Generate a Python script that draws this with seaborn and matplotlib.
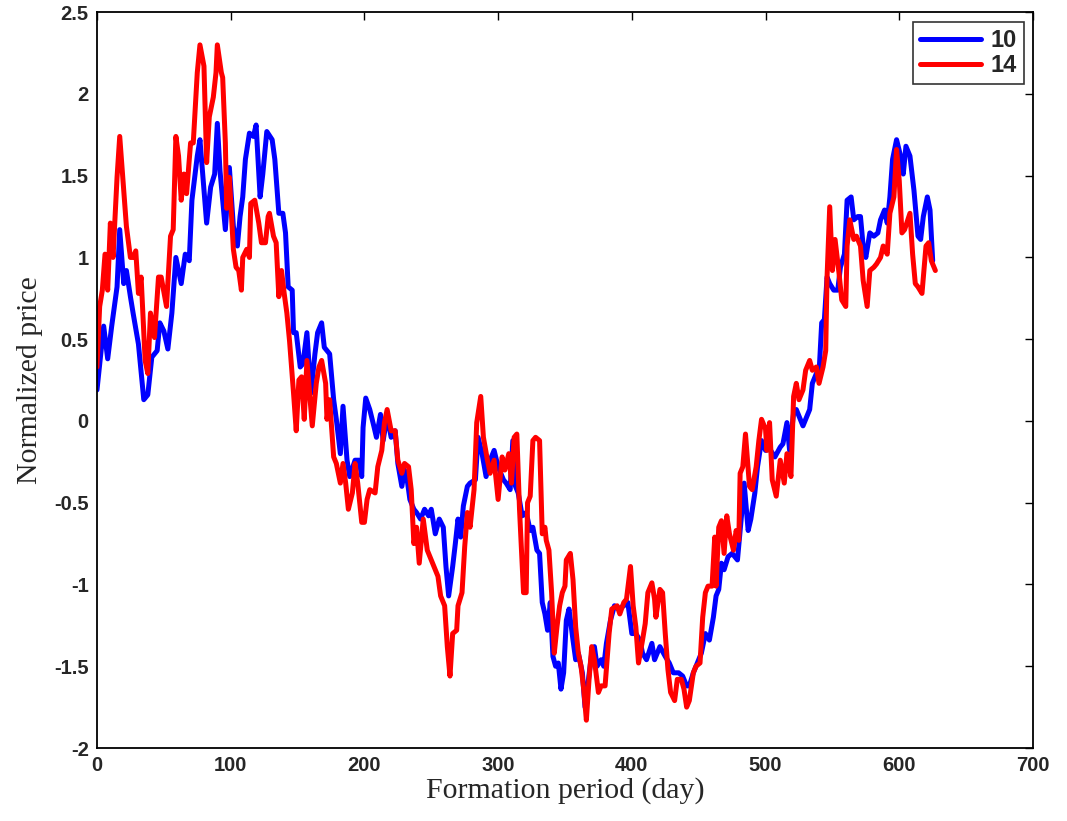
import numpy as np
import pandas as pd
import matplotlib
matplotlib.use("Agg")
import matplotlib.pyplot as plt
import seaborn as sns

# Normalized price paths over the formation period, two stocks ("10" and "14")
days_10 = [0, 5, 8, 11, 15, 17, 20, 22, 25, 27, 31, 35, 38, 41, 45, 47, 50, 53, 56, 59,
           63, 66, 69, 71, 75, 77, 80, 82, 85, 88, 90, 92, 96, 99, 102, 105, 107, 109, 111, 114,
           117, 119, 122, 124, 127, 131, 133, 136, 139, 141, 143, 146, 147, 149, 152, 154, 157, 160, 163, 165,
           168, 170, 174, 177, 179, 182, 184, 187, 189, 193, 196, 198, 199, 201, 204, 207, 209, 212, 214, 217,
           220, 223, 225, 228, 230, 232, 234, 237, 239, 242, 245, 248, 250, 253, 256, 259, 261, 263, 266, 268,
           270, 272, 274, 277, 279, 283, 285, 288, 291, 294, 297, 300, 304, 306, 309, 311, 313, 315, 318, 321,
           324, 326, 329, 331, 333, 335, 337, 339, 341, 343, 345, 347, 349, 351, 353, 356, 358, 360, 363, 365,
           367, 370, 372, 374, 377, 379, 381, 384, 387, 390, 394, 397, 400, 403, 406, 408, 411, 415, 417, 421,
           425, 428, 431, 435, 438, 441, 443, 446, 450, 452, 455, 458, 461, 463, 465, 467, 469, 472, 475, 477,
           479, 482, 484, 487, 489, 492, 494, 497, 500, 503, 507, 511, 513, 516, 518, 521, 523, 526, 528, 531,
           533, 535, 538, 540, 542, 544, 546, 548, 551, 554, 556, 559, 561, 564, 566, 569, 571, 573, 575, 578,
           581, 584, 586, 589, 591, 593, 595, 598, 601, 603, 605, 608, 609, 611, 614, 616, 618, 621, 623, 625]
price_10 = [0.19, 0.58, 0.38, 0.58, 0.82, 1.17, 0.84, 0.92, 0.76, 0.66, 0.47, 0.13, 0.16, 0.39, 0.43, 0.60, 0.55, 0.44, 0.66, 1.00,
            0.84, 1.02, 0.98, 1.35, 1.62, 1.72, 1.41, 1.21, 1.43, 1.51, 1.82, 1.53, 1.17, 1.55, 1.19, 1.07, 1.25, 1.37, 1.60, 1.76,
            1.74, 1.81, 1.37, 1.51, 1.77, 1.72, 1.60, 1.27, 1.27, 1.15, 0.82, 0.80, 0.54, 0.54, 0.33, 0.35, 0.54, 0.17, 0.41, 0.54,
            0.60, 0.45, 0.41, 0.13, 0.01, -0.20, 0.09, -0.24, -0.34, -0.24, -0.24, -0.34, -0.04, 0.14, 0.07, -0.03, -0.10, 0.04, -0.12, 0.03,
            -0.10, -0.06, -0.26, -0.40, -0.30, -0.36, -0.48, -0.54, -0.56, -0.60, -0.54, -0.58, -0.54, -0.69, -0.60, -0.65, -0.89, -1.07, -0.89, -0.75,
            -0.60, -0.71, -0.52, -0.40, -0.38, -0.36, -0.10, -0.20, -0.34, -0.24, -0.18, -0.28, -0.36, -0.38, -0.42, -0.12, -0.40, -0.44, -0.58, -0.56,
            -0.67, -0.65, -0.79, -0.81, -1.11, -1.18, -1.28, -1.11, -1.44, -1.50, -1.48, -1.64, -1.54, -1.22, -1.15, -1.34, -1.46, -1.42, -1.54, -1.75,
            -1.62, -1.42, -1.38, -1.50, -1.46, -1.50, -1.36, -1.22, -1.13, -1.15, -1.13, -1.11, -1.30, -1.30, -1.34, -1.42, -1.46, -1.36, -1.46, -1.38,
            -1.44, -1.48, -1.54, -1.54, -1.56, -1.62, -1.62, -1.54, -1.46, -1.42, -1.30, -1.34, -1.20, -1.07, -1.03, -0.87, -0.91, -0.83, -0.81, -0.83,
            -0.85, -0.58, -0.38, -0.67, -0.60, -0.44, -0.28, -0.12, -0.18, -0.17, -0.22, -0.16, -0.14, -0.01, -0.18, 0.05, 0.07, 0.01, -0.03, 0.03,
            0.07, 0.23, 0.29, 0.29, 0.60, 0.62, 0.88, 0.84, 0.80, 0.80, 0.94, 1.02, 1.35, 1.37, 1.23, 1.25, 1.25, 1.07, 1.00, 1.15,
            1.13, 1.15, 1.23, 1.29, 1.21, 1.37, 1.60, 1.72, 1.62, 1.51, 1.68, 1.62, 1.55, 1.41, 1.13, 1.11, 1.25, 1.37, 1.29, 0.98]

days_14 = [0, 2, 4, 6, 8, 10, 12, 15, 17, 20, 22, 25, 27, 29, 31, 33, 36, 38, 40, 43,
           46, 48, 52, 55, 57, 59, 61, 63, 65, 67, 70, 72, 75, 77, 80, 82, 84, 87, 89, 90,
           93, 94, 96, 97, 99, 102, 104, 106, 108, 109, 112, 114, 115, 118, 121, 123, 126, 128, 129, 132,
           134, 136, 138, 140, 142, 144, 147, 149, 151, 153, 155, 157, 159, 161, 164, 166, 168, 171, 172, 174,
           177, 179, 182, 184, 186, 188, 191, 193, 195, 198, 200, 202, 204, 208, 210, 213, 215, 217, 220, 223,
           225, 228, 230, 233, 235, 237, 239, 241, 244, 247, 249, 252, 255, 257, 260, 262, 264, 266, 269, 270,
           273, 275, 277, 279, 282, 284, 287, 289, 292, 294, 297, 299, 300, 303, 305, 308, 310, 312, 314, 316,
           319, 321, 322, 324, 326, 328, 331, 333, 335, 336, 338, 340, 342, 344, 346, 348, 350, 351, 354, 356,
           358, 360, 362, 364, 366, 368, 370, 372, 375, 377, 380, 383, 385, 389, 391, 394, 396, 399, 401, 403,
           405, 408, 410, 412, 415, 417, 418, 421, 423, 425, 427, 429, 432, 434, 437, 439, 441, 443, 446, 448,
           451, 453, 455, 457, 460, 462, 463, 465, 467, 469, 471, 473, 476, 478, 480, 481, 483, 485, 488, 490,
           493, 495, 497, 500, 501, 503, 505, 508, 511, 514, 516, 519, 521, 523, 525, 528, 530, 533, 535, 538,
           540, 543, 545, 546, 548, 550, 552, 555, 557, 560, 561, 563, 566, 568, 571, 573, 576, 578, 581, 583,
           586, 588, 591, 593, 596, 598, 600, 602, 604, 608, 610, 612, 614, 617, 620, 622, 624, 627]
price_14 = [0.33, 0.70, 0.80, 1.02, 0.80, 1.21, 1.00, 1.49, 1.74, 1.41, 1.19, 1.00, 1.00, 1.04, 0.78, 0.88, 0.37, 0.29, 0.66, 0.51,
            0.88, 0.88, 0.70, 1.13, 1.17, 1.74, 1.62, 1.35, 1.51, 1.39, 1.70, 1.70, 2.13, 2.30, 2.17, 1.58, 1.86, 1.98, 2.13, 2.30,
            2.13, 2.10, 1.70, 1.30, 1.49, 1.05, 0.94, 0.92, 0.80, 1.00, 1.05, 1.00, 1.33, 1.35, 1.21, 1.09, 1.09, 1.25, 1.27, 1.13,
            1.09, 0.76, 0.92, 0.78, 0.66, 0.49, 0.17, -0.06, 0.25, 0.27, 0.01, 0.37, 0.17, -0.03, 0.23, 0.33, 0.37, 0.23, 0.01, 0.13,
            -0.22, -0.26, -0.38, -0.26, -0.38, -0.54, -0.44, -0.26, -0.38, -0.62, -0.62, -0.48, -0.42, -0.44, -0.28, -0.18, -0.01, 0.07, -0.06, -0.06,
            -0.24, -0.32, -0.26, -0.28, -0.42, -0.75, -0.65, -0.87, -0.60, -0.79, -0.83, -0.89, -0.95, -1.07, -1.13, -1.38, -1.56, -1.30, -1.28, -1.13,
            -1.05, -0.77, -0.56, -0.65, -0.42, -0.01, 0.15, -0.10, -0.24, -0.32, -0.24, -0.40, -0.48, -0.22, -0.30, -0.20, -0.38, -0.10, -0.08, -0.54,
            -1.05, -1.05, -0.50, -0.46, -0.12, -0.10, -0.12, -0.69, -0.65, -0.73, -0.79, -1.05, -1.42, -1.26, -1.13, -1.05, -1.01, -0.85, -0.81, -0.97,
            -1.26, -1.42, -1.50, -1.64, -1.83, -1.58, -1.38, -1.46, -1.66, -1.62, -1.62, -1.30, -1.15, -1.13, -1.18, -1.11, -1.09, -0.89, -1.13, -1.26,
            -1.48, -1.34, -1.24, -1.05, -0.99, -1.09, -1.20, -1.03, -1.05, -1.30, -1.52, -1.66, -1.71, -1.58, -1.58, -1.64, -1.75, -1.71, -1.54, -1.50,
            -1.48, -1.20, -1.05, -1.01, -1.01, -0.71, -1.01, -0.65, -0.61, -0.81, -0.58, -0.69, -0.79, -0.67, -0.73, -0.32, -0.28, -0.08, -0.40, -0.42,
            -0.28, -0.12, 0.01, -0.05, -0.18, -0.01, -0.36, -0.46, -0.24, -0.38, -0.20, -0.34, 0.15, 0.23, 0.13, 0.19, 0.31, 0.37, 0.31, 0.33,
            0.23, 0.33, 0.43, 0.88, 1.31, 0.92, 1.11, 0.90, 0.74, 0.70, 1.07, 1.23, 1.11, 1.13, 1.07, 0.86, 0.70, 0.92, 0.94, 0.96,
            1.00, 1.07, 1.02, 1.27, 1.37, 1.66, 1.47, 1.15, 1.17, 1.27, 1.02, 0.84, 0.82, 0.78, 1.07, 1.09, 0.98, 0.92]

series_names = ["10", "14"]
series_colors = {"10": "#0000ff", "14": "#ff0000"}

x_ticks = [0, 100, 200, 300, 400, 500, 600, 700]
y_ticks = [-2, -1.5, -1, -0.5, 0, 0.5, 1, 1.5, 2, 2.5]
y_tick_labels = ["-2", "-1.5", "-1", "-0.5", "0", "0.5", "1", "1.5", "2", "2.5"]

df = pd.concat([
    pd.DataFrame({"day": days_10, "price": price_10, "series": series_names[0]}),
    pd.DataFrame({"day": days_14, "price": price_14, "series": series_names[1]}),
], ignore_index=True)

sns.set_style("white")
plt.rcParams["font.family"] = ["Liberation Sans", "DejaVu Sans"]

fig = plt.figure(figsize=(10.67, 8.21), dpi=100)
ax = fig.add_axes([0.0909, 0.0889, 0.8772, 0.8963])

sns.lineplot(data=df, x="day", y="price", hue="series", hue_order=series_names,
             palette=series_colors, estimator=None, sort=False,
             linewidth=3.6, ax=ax)

ax.set_xlim(0, 700)
ax.set_ylim(-2, 2.5)
ax.set_xticks(x_ticks)
ax.set_xticklabels([str(t) for t in x_ticks])
ax.set_yticks(y_ticks)
ax.set_yticklabels(y_tick_labels)

for lbl in ax.get_xticklabels() + ax.get_yticklabels():
    lbl.set_fontweight("bold")
    lbl.set_fontsize(14.5)

ax.tick_params(direction="in", length=6, width=1, top=True, right=True,
               color="black", pad=6)
for side in ["left", "right", "top", "bottom"]:
    ax.spines[side].set_visible(True)
    ax.spines[side].set_color("black")
    ax.spines[side].set_linewidth(1.3)

ax.set_xlabel("Formation period (day)", family=["Liberation Serif", "DejaVu Serif"],
              fontsize=21.5, labelpad=1)
ax.set_ylabel("Normalized price", family=["Liberation Serif", "DejaVu Serif"],
              fontsize=21.5, labelpad=8)

leg = ax.legend(loc="upper right", bbox_to_anchor=(0.990, 0.986), frameon=True,
                fancybox=False, edgecolor="black", handlelength=2.6,
                borderpad=0.28, labelspacing=0.08, handletextpad=0.4,
                borderaxespad=0.0,
                prop={"weight": "bold", "size": 17})
leg.get_frame().set_linewidth(1.2)
for line in leg.get_lines():
    line.set_linewidth(3.6)

fig.savefig("out.png", dpi=100)
